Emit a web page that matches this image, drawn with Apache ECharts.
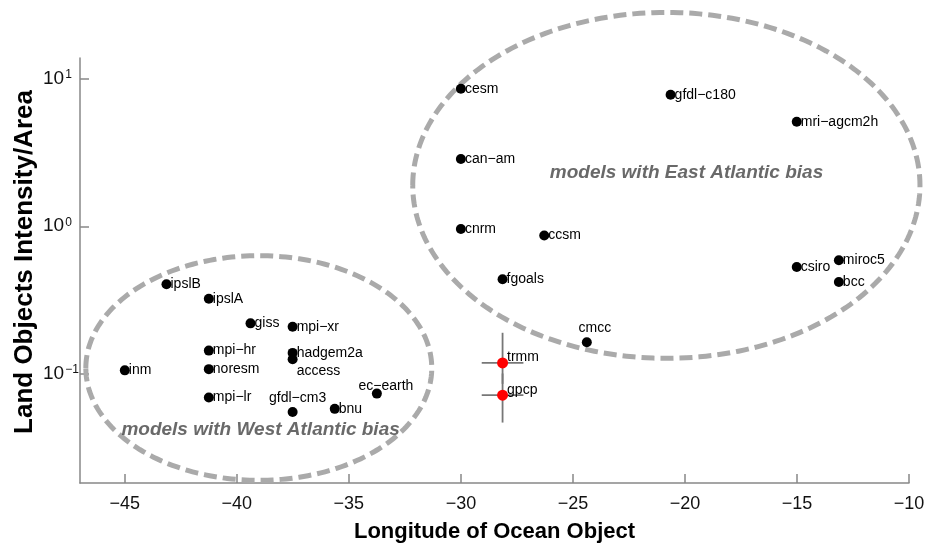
<!DOCTYPE html>
<html>
<head>
<meta charset="utf-8">
<script src="https://cdn.jsdelivr.net/npm/echarts@6/dist/echarts.min.js"></script>
<style>html,body{margin:0;padding:0;background:#fff}#c{width:935px;height:547px}</style>
</head>
<body>
<div id="c"></div>
<script>
// ---- data ----
var modelNames = ['ipslB','ipslA','giss','mpi−xr','mpi−hr','hadgem2a','access','inm','noresm','mpi−lr','gfdl−cm3','bnu','ec−earth',
  'cesm','gfdl−c180','mri−agcm2h','can−am','cnrm','ccsm','csiro','miroc5','fgoals','bcc','cmcc'];
var modelLon = [-43.14,-41.25,-39.39,-37.51,-41.25,-37.51,-37.51,-45.0,-41.25,-41.25,-37.51,-35.63,-33.75,
  -30.0,-20.64,-15.01,-30.0,-30.0,-26.28,-15.01,-13.13,-28.14,-13.13,-24.38];
var modelInt = [0.404,0.322,0.219,0.2075,0.143,0.138,0.125,0.105,0.107,0.0687,0.0548,0.0575,0.073,
  8.59,7.82,5.13,2.86,0.959,0.865,0.529,0.587,0.436,0.418,0.163];

var obsNames = ['trmm','gpcp'];
var obsLon = [-28.14,-28.14];
var obsInt = [0.118,0.0712];
var obsLonErr = [0.93,0.93];
var obsIntLo = [0.085,0.0464];
var obsIntHi = [0.189,0.100];

var xTicks = [-45,-40,-35,-30,-25,-20,-15,-10];
var yTicks = [0.1,1,10];

// ellipses: centre lon, centre intensity, half-width (deg lon), half-height (decades)
var ellCenterLon = [-20.83,-39.02];
var ellCenterInt = [1.896,0.1089];
var ellRadLon = [11.32,7.72];
var ellRadDec = [1.175,0.763];

var groupTexts = ['models with East Atlantic bias','models with West Atlantic bias'];
var groupLon = [-19.93,-38.94];
var groupInt = [2.31,0.0416];

// ---- label placement tweaks (style only) ----
var labelTweaks = {
  'access': {position:'right', offset:[0,12]},
  'gfdl−cm3': {position:'top', distance:2, offset:[5,0]},
  'ec−earth': {position:'inside', offset:[9,-7]},
  'cmcc': {position:'inside', offset:[8,-14]}
};
var obsTweaks = {
  'trmm': {position:'right', distance:-1, offset:[0,-6]},
  'gpcp': {position:'right', distance:-1, offset:[0,-5]}
};

var FONT = 'Liberation Sans';
function pointData(names, lon, ints, tweaks){
  return names.map(function(n,i){
    var lab = {show:true, formatter:n, position:'right', distance:-1, color:'#000', fontSize:14, fontFamily:FONT};
    var t = tweaks[n];
    if (t) { for (var k in t) lab[k] = t[k]; }
    return {name:n, value:[lon[i], ints[i]], label:lab};
  });
}

var ellData = ellCenterLon.map(function(c,i){ return [c, ellCenterInt[i], ellRadLon[i], ellRadDec[i]]; });
var errData = obsLon.map(function(x,i){ return [x, obsInt[i], obsLonErr[i], obsIntLo[i], obsIntHi[i]]; });
var textData = groupTexts.map(function(t,i){ return {name:t, value:[groupLon[i], groupInt[i]]}; });

var chart = echarts.init(document.getElementById('c'), null, {renderer:'canvas'});
chart.setOption({
  animation:false,
  backgroundColor:'#fff',
  grid:{left:80, right:26, top:58, bottom:64, containLabel:false, outerBoundsMode:'none'},
  xAxis:{
    type:'value', min:-47, max:-10,
    name:'Longitude of Ocean Object', nameLocation:'middle', nameGap:38, nameMoveOverlap:false,
    nameTextStyle:{fontFamily:FONT, fontWeight:'bold', fontSize:22, color:'#000'},
    axisLine:{show:true, lineStyle:{color:'#888', width:1.5}},
    axisTick:{show:true, inside:true, length:9, lineStyle:{color:'#888', width:1.5}, customValues:xTicks},
    axisLabel:{customValues:xTicks, margin:12, fontFamily:FONT, fontSize:18, color:'#111',
      formatter:function(v){ return (v<0?'−':'')+Math.abs(v); }},
    splitLine:{show:false}
  },
  yAxis:{
    type:'log', logBase:10, min:0.01803, max:13.9,
    name:'Land Objects Intensity/Area', nameLocation:'middle', nameGap:42, nameMoveOverlap:false,
    nameTextStyle:{fontFamily:FONT, fontWeight:'bold', fontSize:26, color:'#000', padding:[0,0,0,17]},
    axisLine:{show:true, lineStyle:{color:'#888', width:1.5}},
    axisTick:{show:true, inside:true, length:9, lineStyle:{color:'#888', width:1.5}, customValues:yTicks},
    axisLabel:{customValues:yTicks, margin:37, align:'left', color:'#111',
      formatter:function(v){
        var e = Math.round(Math.log10(v));
        return '{b|10}{s|' + (e<0?'−':'') + Math.abs(e) + '}';
      },
      rich:{
        b:{fontFamily:FONT, fontSize:19, color:'#111', lineHeight:20},
        s:{fontFamily:FONT, fontSize:12, color:'#111', lineHeight:12, verticalAlign:'top', padding:[0,0,0,1]}
      }
    },
    splitLine:{show:false}
  },
  series:[
    {
      type:'custom', name:'ellipses', silent:true, z:1,
      data:ellData,
      renderItem:function(params, api){
        var cx = api.value(0), cy = api.value(1), rx = api.value(2), ry = api.value(3);
        var c = api.coord([cx, cy]);
        var px = api.coord([cx+rx, cy])[0] - c[0];
        var py = c[1] - api.coord([cx, cy*Math.pow(10, ry)])[1];
        var pts = [];
        for (var k=0;k<=240;k++){
          var a = Math.PI + k/240*2*Math.PI;
          pts.push([c[0]+px*Math.cos(a), c[1]+py*Math.sin(a)]);
        }
        return {type:'polyline', shape:{points:pts},
          style:{fill:null, stroke:'#aaaaaa', lineWidth:5, lineDash:[13,6]}};
      }
    },
    {
      type:'custom', name:'errorbars', silent:true, z:2,
      data:errData,
      renderItem:function(params, api){
        var x = api.value(0), y = api.value(1), dx = api.value(2), lo = api.value(3), hi = api.value(4);
        var a = api.coord([x-dx, y]), b = api.coord([x+dx, y]);
        var t = api.coord([x, hi]), u = api.coord([x, lo]);
        var st = {stroke:'#777', lineWidth:1.8};
        return {type:'group', children:[
          {type:'line', shape:{x1:a[0], y1:a[1], x2:b[0], y2:b[1]}, style:st},
          {type:'line', shape:{x1:t[0], y1:t[1], x2:u[0], y2:u[1]}, style:st}
        ]};
      }
    },
    {
      type:'scatter', name:'models', z:3, symbol:'circle', symbolSize:10,
      itemStyle:{color:'#000', opacity:1},
      data:pointData(modelNames, modelLon, modelInt, labelTweaks)
    },
    {
      type:'scatter', name:'observations', z:4, symbol:'circle', symbolSize:11,
      itemStyle:{color:'#ff0000', opacity:1},
      data:pointData(obsNames, obsLon, obsInt, obsTweaks)
    },
    {
      type:'scatter', name:'groups', z:5, symbolSize:0, silent:true,
      data:textData,
      label:{show:true, position:'inside', formatter:'{b}', fontFamily:FONT, fontWeight:'bold', fontStyle:'italic',
        fontSize:19, color:'#444'}
    }
  ]
});
</script>
</body>
</html>
